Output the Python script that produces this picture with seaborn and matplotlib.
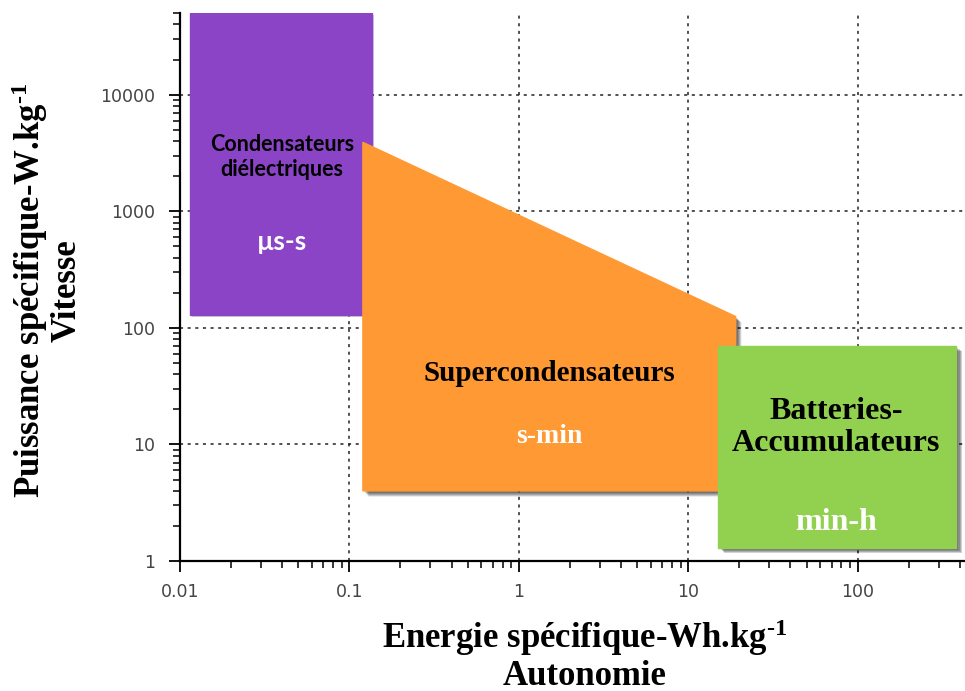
import matplotlib
matplotlib.use('Agg')
import matplotlib.pyplot as plt
import matplotlib.patheffects as pe
from matplotlib.ticker import LogLocator, FuncFormatter, NullFormatter
import seaborn as sns

# Domaines (energie Wh/kg, puissance W/kg) de chaque technologie
condo_x = [0.0115, 0.135, 0.135, 0.0115]
condo_y = [130, 130, 50000, 50000]
super_x = [0.12, 19, 19, 0.12]
super_y = [4, 4, 125, 3900]
batt_x = [15, 380, 380, 15]
batt_y = [1.3, 1.3, 70, 70]

x_ticks = [0.01, 0.1, 1, 10, 100]
y_ticks = [1, 10, 100, 1000, 10000]

sns.set_style('ticks')
plt.rcParams['mathtext.fontset'] = 'custom'
plt.rcParams['mathtext.rm'] = 'Liberation Serif:bold'
plt.rcParams['mathtext.default'] = 'rm'

fig = plt.figure(figsize=(9.65, 6.91), dpi=100)
ax = fig.add_axes([0.1865, 0.188, 0.812, 0.793])
ax.set_xscale('log')
ax.set_yscale('log')
ax.set_xlim(0.01, 420)
ax.set_ylim(1, 50000)

ax.grid(True, which='major', color='#222222', linestyle=(0, (2, 3)), linewidth=1.1)
ax.set_axisbelow(True)

# ombre douce : plusieurs couches decalees
shadow = [pe.SimplePatchShadow(offset=(d, -d), shadow_rgbFace='black', alpha=0.18) for d in (4, 3.2, 2.4, 1.6)]
shadow.append(pe.Normal())
light_shadow = [pe.SimplePatchShadow(offset=(1.5, -1.5), shadow_rgbFace='black', alpha=0.15), pe.Normal()]

ax.fill(condo_x, condo_y, color='#8B44C6', zorder=3, path_effects=light_shadow)
ax.fill(super_x, super_y, color='#FF9933', zorder=3, path_effects=shadow)
ax.fill(batt_x, batt_y, color='#92D050', zorder=4, path_effects=shadow)

sans = 'Lato'
serif = 'Liberation Serif'
ax.text(0.04, 2900, 'Condensateurs\ndiélectriques', ha='center', va='center',
        fontsize=15.5, fontweight='bold', family=sans, color='black', zorder=5, linespacing=1.25)
ax.text(0.04, 540, 'µs-s', ha='center', va='center', fontsize=19, fontweight='bold',
        family=sans, color='white', zorder=5)
ax.text(1.52, 41, 'Supercondensateurs', ha='center', va='center', fontsize=21,
        fontweight='bold', family=serif, color='black', zorder=5)
ax.text(1.52, 11.8, 's-min', ha='center', va='center', fontsize=20,
        fontweight='bold', family=serif, color='white', zorder=5)
ax.text(74, 14, 'Batteries-\nAccumulateurs', ha='center', va='center', fontsize=23,
        fontweight='bold', family=serif, color='black', zorder=5, linespacing=1.15)
ax.text(74, 2.16, 'min-h', ha='center', va='center', fontsize=23,
        fontweight='bold', family=serif, color='white', zorder=5)

ax.xaxis.set_minor_locator(LogLocator(base=10, subs=range(2, 10), numticks=20))
ax.yaxis.set_minor_locator(LogLocator(base=10, subs=range(2, 10), numticks=20))
ax.set_xticks(x_ticks)
ax.set_yticks(y_ticks)
ax.xaxis.set_major_formatter(FuncFormatter(lambda v, p: '%g' % v))
ax.yaxis.set_major_formatter(FuncFormatter(lambda v, p: '%g' % v))
ax.xaxis.set_minor_formatter(NullFormatter())
ax.yaxis.set_minor_formatter(NullFormatter())
ax.tick_params(which='major', direction='out', length=8, width=1.3, colors='black',
               labelcolor='#444444', labelsize=12.5, pad=10)
ax.tick_params(which='minor', direction='out', length=5, width=1.1, colors='black')
ax.tick_params(axis='x', which='major', pad=8)

sns.despine(ax=ax)
for s in ['left', 'bottom']:
    ax.spines[s].set_linewidth(1.6)
    ax.spines[s].set_color('black')

fig.text(0.606, 0.052, 'Energie spécifique-Wh.kg$^{\\text{-}1}$\nAutonomie', ha='center', va='center',
         fontsize=25, fontweight='bold', family=serif, color='black', linespacing=1.05)
fig.text(0.048, 0.58, 'Puissance spécifique-W.kg$^{\\text{-}1}$\nVitesse', ha='center', va='center',
         rotation=90, fontsize=25, fontweight='bold', family=serif, color='black', linespacing=1.05)

plt.savefig('out.png', dpi=100)
